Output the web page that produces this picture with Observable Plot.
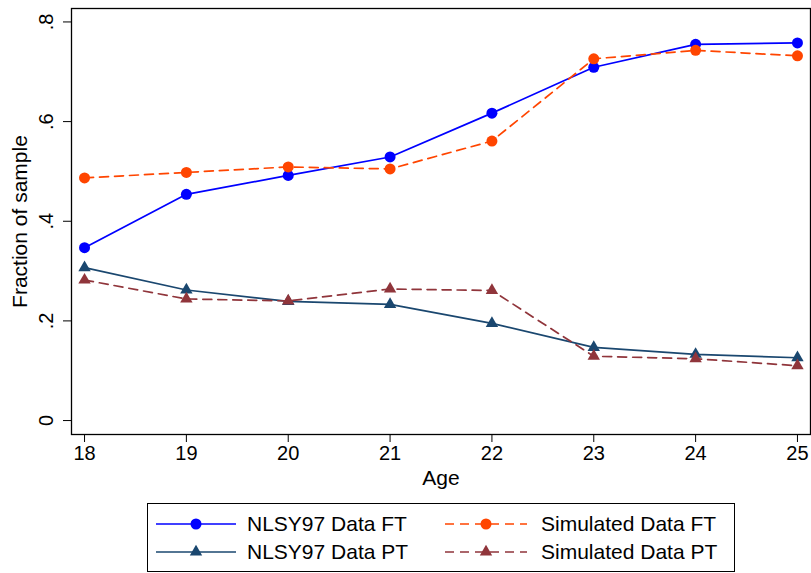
<!DOCTYPE html>
<html>
<head>
<meta charset="utf-8">
<script src="https://cdn.jsdelivr.net/npm/d3@7"></script>
<script src="https://cdn.jsdelivr.net/npm/@observablehq/plot@0.6"></script>
<style>
  html, body { margin: 0; padding: 0; background: #fff; }
  #wrap { position: relative; width: 811px; height: 573px; font-family: "Liberation Sans", Arial, sans-serif; }
  #legend { position: absolute; left: 0; top: 0; }
</style>
</head>
<body>
<div id="wrap"></div>
<script>
// ---- data ----
const ages = [18, 19, 20, 21, 22, 23, 24, 25];
const nlsyFT = [0.347, 0.454, 0.492, 0.529, 0.617, 0.709, 0.755, 0.758];
const simFT  = [0.487, 0.498, 0.509, 0.505, 0.561, 0.726, 0.743, 0.732];
const nlsyPT = [0.307, 0.262, 0.239, 0.233, 0.195, 0.147, 0.133, 0.126];
const simPT  = [0.282, 0.244, 0.240, 0.264, 0.261, 0.129, 0.124, 0.110];
const yTicks = [0, 0.2, 0.4, 0.6, 0.8];
const seriesNames = ["NLSY97 Data FT", "NLSY97 Data PT", "Simulated Data FT", "Simulated Data PT"];

const colors = {
  "NLSY97 Data FT": "#0000ff",
  "NLSY97 Data PT": "#1a476f",
  "Simulated Data FT": "#ff4500",
  "Simulated Data PT": "#90353b"
};
const dashes = {
  "NLSY97 Data FT": null,
  "NLSY97 Data PT": null,
  "Simulated Data FT": "9,6",
  "Simulated Data PT": "9,6"
};
const symbols = {
  "NLSY97 Data FT": "circle",
  "NLSY97 Data PT": "triangle",
  "Simulated Data FT": "circle",
  "Simulated Data PT": "triangle"
};

const valuesByName = {
  "NLSY97 Data FT": nlsyFT,
  "NLSY97 Data PT": nlsyPT,
  "Simulated Data FT": simFT,
  "Simulated Data PT": simPT
};
const rows = name => ages.map((a, i) => ({age: a, value: valuesByName[name][i], name}));

const fmt = d => d === 0 ? "0" : String(d).replace(/^0/, "");
const FS = 20;   // tick labels
const FT = 21;   // titles and legend

const marks = [];
for (const name of seriesNames) {
  const data = rows(name);
  marks.push(Plot.line(data, {
    x: "age", y: "value",
    stroke: colors[name], strokeWidth: 1.7,
    strokeDasharray: dashes[name] || undefined
  }));
  marks.push(Plot.dot(data, {
    x: "age", y: "value",
    symbol: symbols[name],
    r: symbols[name] === "circle" ? 5.5 : 4.6,
    fill: colors[name], stroke: "none"
  }));
}

const chart = Plot.plot({
  width: 811,
  height: 500,
  marginLeft: 71,
  marginRight: 1,
  marginTop: 8,
  marginBottom: 66,
  style: {fontFamily: "Liberation Sans, Arial, sans-serif", fontSize: FS + "px", background: "#fff", color: "#000"},
  x: {domain: [17.872, 25.128]},
  y: {domain: [-0.028, 0.827]},
  marks: [
    Plot.frame({stroke: "#000", strokeWidth: 1.3}),
    Plot.axisX({ticks: ages, tickSize: 8, tickPadding: 3, tickFormat: d => String(d), label: null, fontSize: FS}),
    Plot.axisY({ticks: yTicks, tickSize: 8, tickFormat: () => "", label: null}),
    Plot.text(yTicks, {
      y: d => d, frameAnchor: "left", dx: -19,
      text: fmt, rotate: -90, textAnchor: "middle", lineAnchor: "bottom",
      fontSize: FS, fill: "#000"
    }),
    Plot.text(["Age"], {frameAnchor: "bottom", dy: 44, text: d => d, fontSize: FT, fill: "#000", textAnchor: "middle", lineAnchor: "middle"}),
    Plot.text(["Fraction of sample"], {frameAnchor: "left", dx: -51, rotate: -90, text: d => d, fontSize: FT, fill: "#000", textAnchor: "middle", lineAnchor: "middle"}),
    ...marks
  ]
});
document.getElementById("wrap").appendChild(chart);

// ---- legend ----
const leg = d3.select("#wrap").append("svg")
  .attr("id", "legend")
  .attr("width", 811).attr("height", 573);
leg.append("rect")
  .attr("x", 147.5).attr("y", 503.5).attr("width", 587).attr("height", 68)
  .attr("fill", "#fff").attr("stroke", "#000").attr("stroke-width", 1);

const legendLayout = [
  {name: "NLSY97 Data FT", col: 0, row: 0},
  {name: "NLSY97 Data PT", col: 0, row: 1},
  {name: "Simulated Data FT", col: 1, row: 0},
  {name: "Simulated Data PT", col: 1, row: 1}
];
const colX = [{x0: 156, x1: 236, tx: 247}, {x0: 445, x1: 527, tx: 541}];
const rowY = [524, 552];
for (const e of legendLayout) {
  const c = colX[e.col], y = rowY[e.row];
  const g = leg.append("g");
  const line = g.append("line")
    .attr("x1", c.x0).attr("x2", c.x1).attr("y1", y).attr("y2", y)
    .attr("stroke", colors[e.name]).attr("stroke-width", 1.7);
  if (dashes[e.name]) line.attr("stroke-dasharray", dashes[e.name]);
  const mx = (c.x0 + c.x1) / 2;
  if (symbols[e.name] === "circle") {
    g.append("circle").attr("cx", mx).attr("cy", y).attr("r", 5.5).attr("fill", colors[e.name]);
  } else {
    g.append("path")
      .attr("d", d3.symbol(d3.symbolTriangle, Math.PI * 4.6 * 4.6)())
      .attr("transform", `translate(${mx},${y})`)
      .attr("fill", colors[e.name]);
  }
  g.append("text")
    .attr("x", c.tx).attr("y", y).attr("dy", "0.35em")
    .attr("font-size", FT).attr("font-family", "Liberation Sans, Arial, sans-serif")
    .attr("fill", "#000")
    .text(e.name);
}
</script>
</body>
</html>
